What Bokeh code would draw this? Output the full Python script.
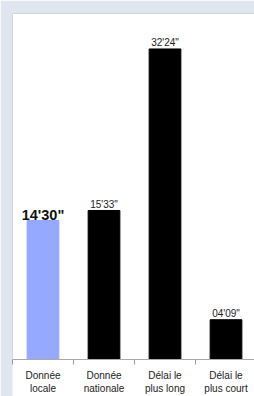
from bokeh.plotting import figure
from bokeh.models import Range1d, FixedTicker, ColumnDataSource, Span
from bokeh.core.properties import value
from bokeh.embed import file_html
from bokeh.resources import INLINE

categories = ["Donnée\nlocale", "Donnée\nnationale", "Délai le\nplus long", "Délai le\nplus court"]
seconds = [870, 933, 1944, 249]
value_labels = ["14'30\"", "15'33\"", "32'24\"", "04'09\""]
colors = ["#94a9ff", "#000000", "#000000", "#000000"]

xs = [i + 0.5 for i in range(len(categories))]
src = ColumnDataSource(dict(x=xs, top=seconds, color=colors))

p = figure(width=254, height=396, output_backend="svg", toolbar_location=None,
           x_range=Range1d(0, 3.967), y_range=Range1d(0, 2166),
           min_border_left=12, min_border_right=0, min_border_top=13, min_border_bottom=37,
           y_axis_location=None)
p.background_fill_color = "white"
p.border_fill_color = "#dfe6ef"
p.outline_line_color = None
p.xgrid.visible = False
p.ygrid.visible = False

p.vbar(x="x", top="top", width=0.52, bottom=0, color="color", source=src)

big = ColumnDataSource(dict(x=xs[:1], y=seconds[:1], t=value_labels[:1]))
small = ColumnDataSource(dict(x=xs[1:], y=seconds[1:], t=value_labels[1:]))
p.text(x="x", y="y", text="t", source=big, text_align="center", text_baseline="alphabetic",
       y_offset=-6, text_font=value("Liberation Sans"), text_font_size="14.5px",
       text_font_style="bold", text_color="#111111")
p.text(x="x", y="y", text="t", source=small, text_align="center", text_baseline="alphabetic",
       y_offset=-6, text_font=value("Liberation Sans"), text_font_size="10px",
       text_color="#222222")

ax = p.xaxis[0]
ax.ticker = FixedTicker(ticks=xs, minor_ticks=[0, 1, 2, 3])
ax.major_label_overrides = {x: c for x, c in zip(xs, categories)}
ax.major_tick_line_color = None
ax.major_tick_out = 0
ax.major_tick_in = 0
ax.minor_tick_line_color = "#999999"
ax.minor_tick_out = 5
ax.minor_tick_in = 0
ax.axis_line_color = "#aaaaaa"
ax.major_label_standoff = 5
ax.major_label_text_font = "Liberation Sans"
ax.major_label_text_font_size = "10px"
ax.major_label_text_color = "#222222"
ax.background_fill_color = "white"

p.add_layout(Span(location=0, dimension="height", line_color="#b0b0b0", line_width=1))
p.add_layout(Span(location=2166, dimension="width", line_color="#b0b0b0", line_width=1))

open("out.html", "w").write(file_html(p, INLINE))
